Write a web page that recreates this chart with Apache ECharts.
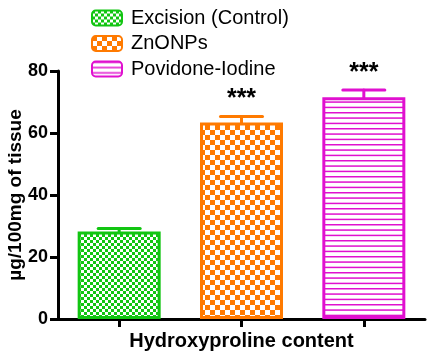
<!DOCTYPE html>
<html>
<head>
<meta charset="utf-8">
<script src="https://cdn.jsdelivr.net/npm/echarts@6/dist/echarts.min.js"></script>
<style>
    html, body { margin: 0; padding: 0; background: #fff; }
    #chart { width: 429px; height: 352px; }
</style>
</head>
<body>
<div id="chart"></div>
<script>
var groups = ['Excision (Control)', 'ZnONPs', 'Povidone-Iodine'];
var means = [28.2, 63.4, 71.5];
var errors = [1.0, 1.9, 2.4];
var stars = ['', '***', '***'];
var yTicks = [0, 20, 40, 60, 80];

var colors = ['#12C512', '#FF7A00', '#E010CF'];
var font = "'Liberation Sans', Arial, sans-serif";

function checker(color, cell) {
    var c = document.createElement('canvas');
    c.width = cell * 2;
    c.height = cell * 2;
    var ctx = c.getContext('2d');
    ctx.fillStyle = '#fff';
    ctx.fillRect(0, 0, c.width, c.height);
    ctx.fillStyle = color;
    ctx.fillRect(0, 0, cell, cell);
    ctx.fillRect(cell, cell, cell, cell);
    return { image: c, repeat: 'repeat' };
}

function hlines(color) {
    var c = document.createElement('canvas');
    c.width = 8;
    c.height = 16;
    var ctx = c.getContext('2d');
    ctx.fillStyle = '#fff';
    ctx.fillRect(0, 0, 8, 16);
    ctx.fillStyle = color;
    ctx.fillRect(0, 0, 8, 1.5);
    ctx.fillRect(0, 5.33, 8, 1.5);
    ctx.fillRect(0, 10.67, 8, 1.5);
    return { image: c, repeat: 'repeat' };
}

var fills = [checker(colors[0], 3), checker(colors[1], 5), hlines(colors[2])];

var barSeries = groups.map(function (name, i) {
    var d = groups.map(function (g, j) { return j === i ? means[i] : '-'; });
    return {
        name: name,
        type: 'bar',
        data: d,
        barWidth: 83,
        barGap: '-100%',
        itemStyle: {
            color: fills[i],
            borderColor: colors[i],
            borderWidth: 3
        },
        emphasis: { disabled: true }
    };
});

var errData = means.map(function (m, i) { return [i, m, errors[i]]; });

var errSeries = {
    type: 'custom',
    z: 5,
    data: errData,
    encode: { x: 0, y: 1 },
    renderItem: function (params, api) {
        var i = params.dataIndex;
        var x = api.value(0), m = api.value(1), s = api.value(2);
        var top = api.coord([x, m + s]);
        var base = api.coord([x, m]);
        var st = { stroke: colors[i], lineWidth: 3, lineCap: 'round' };
        var children = [
            { type: 'line', shape: { x1: base[0], y1: base[1], x2: top[0], y2: top[1] }, style: st },
            { type: 'line', shape: { x1: top[0] - 21, y1: top[1], x2: top[0] + 21, y2: top[1] }, style: st }
        ];
        if (stars[i]) {
            children.push({
                type: 'text',
                style: {
                    text: stars[i], x: top[0], y: top[1] - 17,
                    align: 'center', verticalAlign: 'middle',
                    fill: '#000', font: 'bold 25px ' + font
                }
            });
        }
        return { type: 'group', children: children };
    }
};

var chart = echarts.init(document.getElementById('chart'));
chart.setOption({
    animation: false,
    textStyle: { fontFamily: font, color: '#000' },
    legend: {
        data: groups,
        orient: 'vertical',
        left: 86,
        top: 3,
        itemWidth: 30,
        itemHeight: 15,
        itemGap: 5.5,
        selectedMode: false,
        textStyle: { fontSize: 20, color: '#000', lineHeight: 15, padding: [0, 0, 0, 4] }
    },
    grid: { left: 58, right: 4, top: 71, bottom: 33, containLabel: false, outerBoundsMode: 'none' },
    xAxis: {
        type: 'category',
        data: groups,
        name: 'Hydroxyproline content',
        nameLocation: 'middle',
        nameGap: 12,
        nameMoveOverlap: false,
        nameTextStyle: { fontSize: 20, fontWeight: 'bold', color: '#000', verticalAlign: 'top' },
        axisLine: { lineStyle: { color: '#000', width: 3 } },
        axisTick: { show: true, interval: 0, alignWithLabel: true, length: 8, lineStyle: { width: 3, color: '#000' } },
        axisLabel: { show: false }
    },
    yAxis: {
        type: 'value',
        min: yTicks[0],
        max: yTicks[yTicks.length - 1],
        interval: 20,
        name: 'µg/100mg of tissue',
        nameLocation: 'middle',
        nameGap: 33,
        nameMoveOverlap: false,
        nameTextStyle: { fontSize: 19, fontWeight: 'bold', color: '#000' },
        axisLine: { show: true, lineStyle: { color: '#000', width: 3 } },
        axisTick: { show: true, length: 8, lineStyle: { width: 3, color: '#000' } },
        axisLabel: { fontSize: 18, fontWeight: 'bold', color: '#000', margin: 10 },
        splitLine: { show: false }
    },
    series: barSeries.concat([errSeries])
});
</script>
</body>
</html>
